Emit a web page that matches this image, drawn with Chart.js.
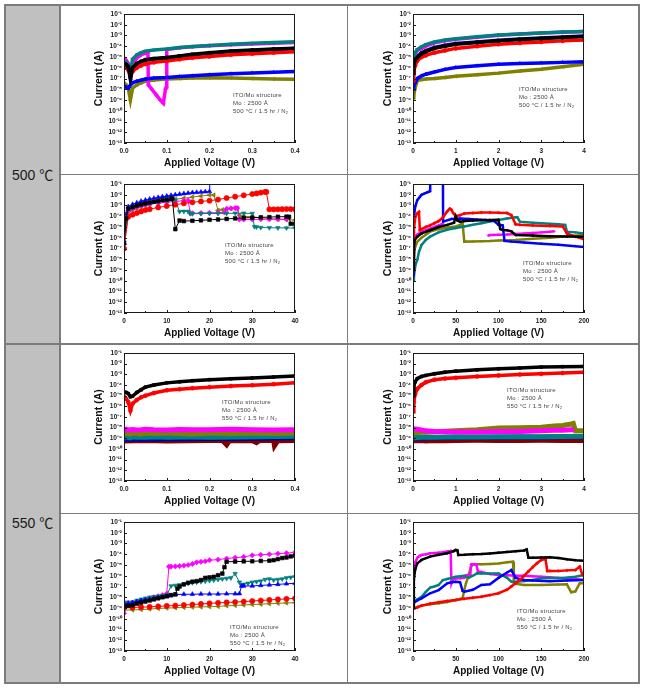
<!DOCTYPE html>
<html><head><meta charset="utf-8">
<script src="https://cdn.jsdelivr.net/npm/chart.js@4.4.0/dist/chart.umd.min.js"></script>
<style>
html,body{margin:0;padding:0;background:#fff}
body{width:647px;height:689px;overflow:hidden;position:relative;font-family:"Liberation Sans",Arial,sans-serif}
canvas{position:absolute;z-index:1}
.ln{position:absolute;background:#7c7c7c;z-index:3}
.gray{position:absolute;background:#c0c0c0;z-index:0}
.temp{position:absolute;font-size:14px;line-height:18px;color:#1a1a1a;font-family:"Liberation Sans","Noto Sans CJK KR",sans-serif;z-index:2;white-space:nowrap}
.note{position:absolute;font-size:6px;line-height:8px;color:#444;white-space:nowrap;letter-spacing:0.25px;z-index:2}
.note .s{font-size:4px;vertical-align:-1px}
</style></head><body>
<script>
// ---------- tick labels ----------
const yTickExps   = [-13,-12,-11,-10,-9,-8,-7,-6,-5,-4,-3,-2,-1];
const yTickLabels = ['10⁻¹³','10⁻¹²','10⁻¹¹','10⁻¹⁰','10⁻⁹','10⁻⁸','10⁻⁷','10⁻⁶','10⁻⁵','10⁻⁴','10⁻³','10⁻²','10⁻¹'];
const xTicksA = [0,0.1,0.2,0.3,0.4],   xLabelsA = ['0.0','0.1','0.2','0.3','0.4'];
const xTicksB = [0,1,2,3,4],           xLabelsB = ['0','1','2','3','4'];
const xTicksC = [0,10,20,30,40],       xLabelsC = ['0','10','20','30','40'];
const xTicksD = [0,50,100,150,200],    xLabelsD = ['0','50','100','150','200'];
const rowLabels = ['500 ℃','550 ℃'];
const xTitle = 'Applied Voltage (V)', yTitle = 'Current (A)';

// ---------- data: voltage (V) and log10 of current (A) ----------
// chart 1 : 500 C, 0-0.4 V
const c1x      = [0,0.005,0.01,0.015,0.02,0.03,0.04,0.05,0.07,0.1,0.13,0.16,0.2,0.25,0.3,0.35,0.4];
const c1Black  = [-5.6,-5.7,-5.9,-6.9,-6.0,-5.6,-5.4,-5.25,-5.15,-5.05,-4.9,-4.75,-4.6,-4.45,-4.35,-4.25,-4.18];
const c1Red    = [-6.0,-6.0,-6.2,-6.5,-6.35,-6.0,-5.8,-5.65,-5.5,-5.38,-5.22,-5.08,-4.95,-4.8,-4.7,-4.6,-4.5];
const c1Blue   = [-7.7,-7.8,-7.9,-7.6,-7.4,-7.25,-7.15,-7.05,-6.95,-6.9,-6.82,-6.75,-6.65,-6.55,-6.48,-6.42,-6.36];
const c1Teal   = [-5.4,-5.5,-5.8,-6.4,-5.2,-4.8,-4.6,-4.45,-4.35,-4.25,-4.12,-4.02,-3.92,-3.82,-3.72,-3.64,-3.57];
const c1Olive  = [-7.4,-7.6,-7.9,-9.0,-7.9,-7.6,-7.4,-7.25,-7.15,-7.05,-7.0,-6.95,-6.92,-6.95,-7.0,-7.05,-7.08];
const c1Navy   = [-5.7,-5.8,-6.0,-7.1,-6.1,-5.65,-5.45,-5.3,-5.2,-5.08,-4.92,-4.78,-4.65,-4.5,-4.4,-4.3,-4.22];
const c1MagX   = [0,0.005,0.01,0.015,0.02,0.03,0.04,0.05,0.056,0.057,0.065,0.075,0.085,0.092,0.097,0.099,0.1,0.13,0.16,0.2,0.25,0.3,0.35,0.4];
const c1Mag    = [-5.1,-5.3,-5.6,-5.9,-5.7,-5.1,-4.8,-4.65,-4.6,-7.6,-8.0,-8.5,-9.0,-9.3,-8.0,-7.8,-4.3,-4.15,-4.05,-3.95,-3.85,-3.78,-3.72,-3.66];

// chart 2 : 500 C, 0-4 V
const c2x      = [0,0.02,0.05,0.1,0.2,0.3,0.5,0.75,1,1.5,2,2.5,3,3.5,4];
const c2Black  = [-6.5,-5.6,-5.3,-5.05,-4.7,-4.5,-4.2,-4.0,-3.82,-3.65,-3.5,-3.38,-3.28,-3.18,-3.1];
const c2Red    = [-7.2,-6.3,-5.8,-5.35,-5.0,-4.85,-4.6,-4.4,-4.2,-4.0,-3.82,-3.7,-3.6,-3.5,-3.42];
const c2Blue   = [-8.0,-7.6,-7.4,-7.0,-6.75,-6.6,-6.4,-6.15,-5.98,-5.82,-5.67,-5.6,-5.55,-5.5,-5.45];
const c2Teal   = [-6.0,-5.0,-4.6,-4.3,-4.05,-3.85,-3.6,-3.42,-3.3,-3.12,-2.95,-2.85,-2.76,-2.68,-2.62];
const c2Mag    = [-6.2,-5.2,-4.7,-4.4,-4.2,-4.0,-3.68,-3.48,-3.36,-3.16,-2.98,-2.87,-2.77,-2.69,-2.62];
const c2Olive  = [-8.8,-8.5,-7.85,-7.2,-7.1,-7.05,-7.0,-6.9,-6.8,-6.65,-6.5,-6.3,-6.14,-5.9,-5.67];
const c2Navy   = [-6.5,-5.5,-5.2,-4.95,-4.6,-4.4,-4.1,-3.9,-3.75,-3.6,-3.45,-3.33,-3.23,-3.15,-3.05];

// chart 3 : 500 C, 0-40 V
const c3BlueX  = [0,0.5,1,2,3,4,5,6,7,8,9,10,11,12,13,14,15,16,17,18,19,20,20.05];
const c3Blue   = [-6.5,-3.8,-3.1,-2.9,-2.75,-2.6,-2.5,-2.4,-2.33,-2.25,-2.18,-2.12,-2.06,-2.0,-1.95,-1.9,-1.85,-1.8,-1.78,-1.75,-1.72,-1.7,0];
const c3BlackX = [0,0.5,1,2,3,4,5,6,7,8,9,10,11,11.3,12,13,14,16,18,20,22,24,26,28,30,32,34,36,38,38.6,39,40];
const c3Black  = [-6.5,-4.2,-3.3,-3.15,-3.0,-2.9,-2.8,-2.72,-2.65,-2.58,-2.5,-2.45,-2.4,-2.35,-5.2,-4.4,-4.45,-4.42,-4.38,-4.33,-4.3,-4.25,-4.2,-4.15,-4.13,-4.1,-4.08,-4.05,-4.04,-4.05,-4.7,-4.7];
const c3RedX   = [0,1,2,3,4,5,6,8,10,12,14,16,18,20,22,24,26,28,30,31,32,33,33.3,34,35,36,37,38,39,40];
const c3Red    = [-7,-4.04,-3.85,-3.7,-3.55,-3.42,-3.34,-3.18,-3.05,-2.92,-2.8,-2.7,-2.62,-2.55,-2.45,-2.3,-2.18,-2.05,-1.93,-1.88,-1.8,-1.74,-1.74,-3.36,-3.36,-3.35,-3.34,-3.33,-3.33,-3.34];
const c3OliveX = [0,1,2,3,4,5,6,8,10,12,14,16,18,20,21,22,23,24,25,26,26.5,27,28,30,32,34,36,38,40];
const c3Olive  = [-6.8,-3.67,-3.45,-3.3,-3.15,-2.98,-2.88,-2.72,-2.55,-2.42,-2.32,-2.22,-2.12,-2.03,-2.03,-3.45,-3.4,-3.35,-3.3,-3.25,-3.25,-3.9,-4.0,-4.05,-4.15,-4.22,-4.28,-4.32,-4.35];
const c3MagX   = [0,1,2,3,4,5,6,8,10,12,14,15,15.5,16,18,20,22,23.5,24,25,26,26.5,27,28,30,32,34,36,38];
const c3Mag    = [-6.6,-3.5,-3.3,-3.15,-3.05,-2.95,-2.88,-2.78,-2.7,-2.62,-2.55,-2.52,-3.73,-3.72,-3.7,-3.68,-3.66,-3.64,-3.3,-3.26,-3.24,-3.24,-4.3,-4.3,-4.3,-4.28,-4.28,-4.28,-4.27];
const c3TealX  = [0,1,2,3,4,5,6,8,10,12,13,14,15,15.5,16,18,20,22,24,26,28,30,30.5,31,32,34,36,38,40];
const c3Teal   = [-6.4,-3.36,-3.2,-3.05,-2.95,-2.85,-2.78,-2.65,-2.58,-2.5,-3.57,-3.55,-3.55,-3.75,-3.76,-3.75,-3.74,-3.74,-3.73,-3.72,-3.72,-3.74,-4.97,-5.0,-5.05,-5.07,-5.08,-5.09,-5.1];

// chart 4 : 500 C, 0-200 V
const c4BlueX  = [0,0.5,1,2,3,5,8,10,13,16,19,20,20.1];
const c4Blue   = [-9.5,-6,-4.5,-3.4,-3.0,-2.5,-2.2,-2.0,-1.9,-1.8,-1.7,-1.65,0];
const c4Blue2X = [35,35.2,45,55,65,75,85,95,100,105,107,115,130,150,170,190,200];
const c4Blue2  = [0,-4.5,-4.25,-4.2,-4.25,-4.3,-4.35,-4.45,-4.8,-4.85,-6.3,-6.36,-6.45,-6.55,-6.65,-6.78,-6.85];
const c4RedX   = [0,1,2,3,5,7,8,10,15,20,25,30,35,40,43,45,47,50,55,60,70,80,90,100,110,115,120,125,140,160,175,180,190,200];
const c4Red    = [-9,-5.5,-4.5,-4.0,-3.73,-3.6,-5.28,-5.2,-5.0,-4.85,-4.65,-4.45,-4.1,-3.55,-3.3,-3.4,-3.7,-4.0,-3.9,-3.75,-3.7,-3.65,-3.65,-3.67,-3.7,-3.9,-4.75,-4.8,-4.85,-4.9,-4.95,-5.6,-5.9,-6.15];
const c4TealX  = [0,1,2,3,5,7,10,15,20,30,40,50,60,70,80,90,100,110,120,122,125,140,150,160,170,178,180,190,200];
const c4Teal   = [-10,-9.5,-9,-8.5,-8.07,-7.3,-6.67,-6.2,-5.9,-5.5,-5.25,-5.1,-4.95,-4.8,-4.66,-4.5,-4.35,-4.2,-4.1,-4.1,-4.5,-4.6,-4.65,-4.7,-4.75,-4.8,-5.43,-5.5,-5.6];
const c4BlackX = [0,1,2,5,10,20,30,40,48,50,52,55,60,70,80,90,100,102,105,110,115,120,140,160,180,200];
const c4Black  = [-9,-7,-6.2,-5.9,-5.6,-5.3,-5.0,-4.8,-4.6,-4.0,-4.4,-4.5,-4.45,-4.4,-4.37,-4.35,-4.33,-5.2,-5.28,-5.3,-5.4,-5.75,-5.8,-5.85,-5.88,-5.9];
const c4MagX   = [0,1,2,5,10,15,20,25,30,35];
const c4Mag    = [-9.5,-7,-5.9,-5.7,-5.45,-5.3,-5.15,-5.0,-4.85,-4.7];
const c4Mag2X  = [88,90,100,110,120,130,140,150,160,165];
const c4Mag2   = [-5.8,-5.75,-5.72,-5.7,-5.65,-5.6,-5.55,-5.5,-5.45,-5.4];
const c4OliveX = [0,1,2,5,10,20,30,40,50,55,58,60,70,80,90,100,120,140,160,180,200];
const c4Olive  = [-10,-8.07,-7,-6.36,-6.0,-5.43,-5.2,-5.05,-4.95,-4.8,-4.66,-6.36,-6.35,-6.33,-6.3,-6.25,-6.2,-6.1,-6.0,-5.85,-5.75];

// chart 5 : 550 C, 0-0.4 V
const c5x      = [0,0.005,0.01,0.015,0.02,0.03,0.04,0.05,0.07,0.1,0.13,0.16,0.2,0.25,0.3,0.35,0.4];
const c5Black  = [-4.66,-4.7,-4.8,-5.1,-5.05,-4.7,-4.45,-4.2,-4.0,-3.8,-3.7,-3.6,-3.5,-3.42,-3.34,-3.25,-3.16];
const c5Red    = [-5.1,-5.3,-5.6,-6.4,-5.75,-5.4,-5.15,-5.0,-4.75,-4.5,-4.4,-4.3,-4.2,-4.1,-4.03,-3.92,-3.8];
const c5Mag    = [-8.2,-8.15,-8.25,-8.2,-8.18,-8.22,-8.2,-8.15,-8.2,-8.22,-8.18,-8.2,-8.2,-8.15,-8.2,-8.22,-8.2];
const c5Olive  = [-8.6,-8.5,-8.55,-8.6,-8.5,-8.55,-8.6,-8.5,-8.55,-8.5,-8.55,-8.6,-8.5,-8.55,-8.5,-8.55,-8.5];
const c5Teal   = [-8.9,-8.85,-8.9,-8.95,-8.85,-8.9,-8.88,-8.9,-8.85,-8.9,-8.88,-8.85,-8.9,-8.88,-8.85,-8.82,-8.8];
const c5Blue   = [-8.95,-9.0,-8.95,-9.0,-8.95,-8.98,-8.95,-9.0,-8.95,-8.95,-8.92,-8.95,-8.9,-8.92,-8.9,-8.88,-8.85];
const c5Navy   = [-9.05,-9.1,-9.05,-9.1,-9.08,-9.05,-9.1,-9.05,-9.08,-9.05,-9.02,-9.05,-9.0,-9.02,-9.0,-8.98,-8.95];
const c5WineX  = [0,0.05,0.1,0.15,0.2,0.23,0.235,0.24,0.245,0.25,0.3,0.31,0.315,0.32,0.35,0.352,0.36,0.4];
const c5Wine   = [-9.25,-9.2,-9.25,-9.22,-9.2,-9.2,-9.4,-9.6,-9.3,-9.2,-9.22,-9.4,-9.25,-9.2,-9.2,-9.7,-9.22,-9.2];

// chart 6 : 550 C, 0-4 V
const c6x      = [0,0.02,0.05,0.1,0.2,0.3,0.5,0.75,1,1.5,2,2.5,3,3.5,4];
const c6Black  = [-5.0,-4.05,-3.7,-3.4,-3.2,-3.1,-2.95,-2.8,-2.7,-2.58,-2.48,-2.4,-2.32,-2.28,-2.26];
const c6Red    = [-6.5,-5.6,-4.84,-4.36,-4.0,-3.74,-3.5,-3.4,-3.33,-3.2,-3.1,-3.02,-2.95,-2.88,-2.8];
const c6Teal   = [-8.95,-8.92,-8.9,-8.92,-8.9,-8.88,-8.9,-8.88,-8.86,-8.88,-8.85,-8.85,-8.85,-8.83,-8.8];
const c6Blue   = [-9.0,-8.98,-9.0,-8.95,-8.98,-8.95,-8.95,-8.93,-8.92,-8.9,-8.9,-8.88,-8.9,-8.85,-8.85];
const c6Wine   = [-9.25,-9.25,-9.2,-9.22,-9.2,-9.25,-9.2,-9.22,-9.2,-9.18,-9.2,-9.2,-9.18,-9.2,-9.2];
const c6MagX   = [0,0.1,0.3,0.5,1,1.5,2,2.5,3,3.3,3.5,3.7,3.75];
const c6Mag    = [-8.1,-8.15,-8.3,-8.35,-8.4,-8.4,-8.35,-8.35,-8.3,-8.25,-8.25,-8.2,-8.2];
const c6OliveX = [0,0.1,0.3,0.5,1,1.5,2,2.5,3,3.3,3.5,3.7,3.75,3.8,4];
const c6Olive  = [-8.5,-8.45,-8.4,-8.38,-8.3,-8.2,-8.04,-8.0,-7.95,-7.85,-7.8,-7.65,-7.6,-8.3,-8.3];

// chart 7 : 550 C, 0-40 V
const c7MagX   = [0,0.5,1,2,3,4,5,6,7,8,9,10,10.5,11,12,13,14,15,16,17,18,19,20,22,24,26,28,30,32,34,36,38,40];
const c7Mag    = [-9.5,-8.57,-8.5,-8.5,-8.4,-8.3,-8.2,-8.1,-8.0,-7.9,-7.8,-7.65,-5.15,-5.15,-5.13,-5.1,-5.05,-5.0,-4.9,-4.75,-4.7,-4.65,-4.55,-4.5,-4.4,-4.32,-4.25,-4.1,-4.05,-4.0,-3.95,-3.9,-3.82];
const c7BlackX = [0,1,2,3,4,5,6,7,8,9,10,11,12,12.5,13,14,15,16,17,18,19,20,21,22,23,23.5,24,26,28,30,32,34,35,36,37,38,39,40];
const c7Black  = [-8.9,-8.8,-8.75,-8.6,-8.5,-8.4,-8.3,-8.2,-8.1,-8.0,-7.9,-7.8,-7.73,-7.2,-7.0,-6.8,-6.65,-6.55,-6.5,-6.4,-6.2,-6.15,-6.1,-5.95,-5.8,-5.2,-4.7,-4.68,-4.66,-4.65,-4.62,-4.6,-4.55,-4.45,-4.35,-4.3,-4.2,-4.13];
const c7TealX  = [0,1,2,3,4,5,6,7,8,9,10,11,12,13,14,15,16,17,18,19,20,21,22,23,24,25,26,27,27.5,28,29,30,31,32,33,34,35,36,37,38,39,40];
const c7Teal   = [-8.47,-8.5,-8.45,-8.3,-8.2,-8.1,-8.0,-7.95,-7.9,-7.85,-7.8,-6.95,-6.9,-6.85,-6.78,-6.7,-6.65,-6.6,-6.55,-6.5,-6.45,-6.4,-6.35,-6.3,-6.25,-6.2,-5.8,-6.6,-6.9,-6.8,-6.7,-6.6,-6.55,-6.5,-6.35,-6.3,-6.4,-6.35,-6.3,-6.2,-6.15,-6.1];
const c7BlueX  = [0,1,2,3,4,5,6,7,8,9,10,11,12,14,16,18,20,22,24,26,27,27.5,28,30,32,34,36,38,40];
const c7Blue   = [-8.57,-8.6,-8.5,-8.4,-8.3,-8.25,-8.2,-8.1,-8.05,-8.0,-7.95,-7.85,-7.75,-7.72,-7.72,-7.7,-7.7,-7.7,-7.68,-7.68,-7.66,-6.95,-6.95,-6.95,-6.9,-6.85,-6.8,-6.75,-6.7];
const c7x2     = [0,2,4,6,8,10,12,14,16,18,20,22,24,26,28,30,32,34,36,38,40];
const c7Red    = [-9.0,-8.95,-8.92,-8.9,-8.85,-8.8,-8.78,-8.72,-8.68,-8.62,-8.57,-8.52,-8.48,-8.45,-8.4,-8.35,-8.3,-8.25,-8.2,-8.15,-8.1];
const c7Olive  = [-9.2,-9.18,-9.15,-9.1,-9.05,-9.0,-8.98,-8.95,-8.92,-8.9,-8.88,-8.85,-8.8,-8.76,-8.72,-8.68,-8.64,-8.6,-8.56,-8.53,-8.5];

// chart 8 : 550 C, 0-200 V
const c8MagX   = [0,0.5,1,2,3,5,8,10,15,20,25,30,35,40,44,45,47,50,55,60,62,67,68,72,74,76,80,90,100,110,120,130,140,150,160,170,180,190,200];
const c8Mag    = [-9,-7,-5.47,-5.0,-4.7,-4.32,-4.15,-4.07,-4.0,-3.9,-3.88,-3.85,-3.82,-3.75,-3.7,-6.7,-6.3,-6.25,-6.24,-6.2,-5.95,-5.9,-4.95,-4.94,-4.94,-5.6,-5.65,-5.85,-5.93,-5.95,-6.0,-6.0,-6.05,-6.09,-6.15,-6.2,-6.25,-6.3,-6.4];
const c8BlackX = [0,1,2,3,5,10,20,30,40,48,50,52,53,60,70,80,90,100,110,120,130,133,135,140,150,160,170,180,190,200];
const c8Black  = [-9,-6.4,-5.7,-5.3,-4.85,-4.53,-4.22,-4.05,-3.91,-3.7,-3.6,-3.65,-4.07,-4.05,-4.0,-3.98,-3.92,-3.85,-3.78,-3.72,-3.65,-3.55,-4.32,-4.32,-4.3,-4.28,-4.35,-4.47,-4.55,-4.6];
const c8OliveX = [0,5,10,20,30,40,50,55,58,60,62,65,68,70,80,90,100,110,117,118,120,130,150,170,180,185,190,195,200];
const c8Olive  = [-9.1,-8.9,-8.78,-8.65,-8.57,-8.45,-8.26,-8.15,-8.1,-7.33,-6.7,-5.93,-5.15,-4.94,-4.94,-4.9,-4.85,-4.75,-4.69,-6.7,-6.75,-6.86,-6.85,-6.82,-6.8,-7.54,-7.45,-6.7,-6.7];
const c8RedX   = [0,5,10,20,30,40,50,60,70,80,90,100,110,115,120,125,130,135,140,145,150,155,157,160,170,180,190,195,198,200];
const c8Red    = [-9.1,-8.95,-8.78,-8.6,-8.47,-8.35,-8.26,-8.15,-8.05,-7.95,-7.8,-7.63,-7.3,-7.0,-6.7,-6.4,-6.0,-5.6,-5.2,-4.84,-4.53,-4.45,-5.56,-5.55,-5.55,-5.5,-5.46,-5.15,-5.9,-6.0];
const c8TealX  = [0,5,10,15,20,25,30,35,40,50,60,65,70,75,80,90,100,110,115,120,130,140,150,160,175,190,200];
const c8Teal   = [-8.47,-8.2,-7.95,-7.5,-7.1,-7.0,-6.86,-6.4,-6.3,-6.09,-6.0,-6.2,-6.0,-5.78,-5.8,-5.8,-5.78,-6.2,-6.55,-6.55,-6.5,-6.4,-6.24,-6.2,-6.2,-6.1,-5.93];
const c8BlueX  = [0,5,10,20,30,40,45,50,55,58,60,70,80,90,100,110,115,120,130,140,160,180,200];
const c8Blue   = [-8.57,-8.3,-8.1,-7.63,-7.33,-6.7,-6.6,-6.55,-6.6,-7.4,-7.48,-7.3,-6.86,-6.8,-6.2,-5.7,-5.47,-6.2,-6.4,-6.45,-6.5,-6.45,-6.4];

// ---------- styling ----------
const FONT = "'Liberation Sans', Arial, sans-serif";
const STY = {
  black:  {c:'#000000', ps:'rect',     rot:0},
  red:    {c:'#ff0000', ps:'circle',   rot:0},
  blue:   {c:'#0000ff', ps:'triangle', rot:0},
  teal:   {c:'#008080', ps:'triangle', rot:180},
  magenta:{c:'#ff00ff', ps:'rectRot',  rot:0},
  olive:  {c:'#808000', ps:'triangle', rot:-90},
  navy:   {c:'#000080', ps:'triangle', rot:90},
  wine:   {c:'#800000', ps:'circle',   rot:0}
};
const MODE = {dense:{w:3.5,r:2}, marker:{w:1,r:2.6}, line:{w:2.5,r:1.2}, band:{w:5,r:1.5}};

function ds(color, xs, logs, mode){
  const st = STY[color], m = MODE[mode];
  return {
    data: xs.map((x,i)=>({x:x, y:Math.pow(10, logs[i])})),
    borderColor: st.c, backgroundColor: st.c,
    pointStyle: st.ps, pointRotation: st.rot,
    pointRadius: m.r, pointBorderWidth: 0.6, borderWidth: m.w,
    tension: 0, clip: 0
  };
}

const COLS = [{left:60, width:288, plotL:124, plotR:295, titleX:99},
              {left:348, width:290, plotL:413, plotR:584, titleX:388}];
const ROWS = [{top:5, h:169, plotT:14, plotB:143},
              {top:174, h:170, plotT:184, plotB:313},
              {top:344, h:169, plotT:353, plotB:481},
              {top:513, h:169, plotT:522, plotB:651}];

const framePlugin = {
  id:'frame',
  afterDatasetsDraw(chart){
    const {ctx, chartArea:a, scales:{x, y}} = chart;
    ctx.save();
    ctx.strokeStyle = '#1a1a1a'; ctx.lineWidth = 1;
    ctx.strokeRect(a.left+0.5, a.top+0.5, a.right-a.left-1, a.bottom-a.top-1);
    ctx.beginPath();
    y.ticks.forEach(t=>{ const py = Math.round(y.getPixelForValue(t.value))+0.5; ctx.moveTo(a.left, py); ctx.lineTo(a.left+3, py); });
    x.ticks.forEach((t,i)=>{
      const px = Math.round(x.getPixelForValue(t.value))+0.5; ctx.moveTo(px, a.bottom); ctx.lineTo(px, a.bottom-3);
      if (i < x.ticks.length-1){ const mx = Math.round(x.getPixelForValue((t.value + x.ticks[i+1].value)/2))+0.5; ctx.moveTo(mx, a.bottom); ctx.lineTo(mx, a.bottom-2); }
    });
    ctx.stroke(); ctx.restore();
  }
};

function makeChart(col, row, xTicks, xLabels, datasets){
  const C = COLS[col], R = ROWS[row];
  const cv = document.createElement('canvas');
  cv.width = C.width; cv.height = R.h;
  cv.style.left = C.left+'px'; cv.style.top = R.top+'px';
  document.body.appendChild(cv);
  const titlePad = 2, lineH = 12;
  const padL = (C.titleX - C.left) - lineH/2 - titlePad;
  const yW = (C.plotL - C.left) - padL;
  const xH = 26;
  new Chart(cv, {
    type:'line',
    data:{datasets:datasets},
    options:{
      responsive:false, animation:false, devicePixelRatio:1,
      events:[],
      layout:{padding:{left:padL, right:(C.left+C.width)-C.plotR, top:R.plotT-R.top, bottom:(R.top+R.h)-R.plotB-xH}},
      plugins:{legend:{display:false}, tooltip:{enabled:false}},
      scales:{
        x:{type:'linear', min:xTicks[0], max:xTicks[xTicks.length-1],
           afterBuildTicks:s=>{ s.ticks = xTicks.map(v=>({value:v})); },
           afterFit:s=>{ s.height = xH; },
           grid:{display:false, drawTicks:false}, border:{display:false},
           ticks:{autoSkip:false, maxRotation:0, padding:4, color:'#222', font:{family:FONT, size:6.5, weight:'bold'}, callback:(v,i)=>xLabels[i]},
           title:{display:true, text:xTitle, color:'#111', font:{family:FONT, size:10, weight:'bold', lineHeight:1.2}, padding:{top:0, bottom:0}}},
        y:{type:'logarithmic', min:Math.pow(10, yTickExps[0]), max:Math.pow(10, yTickExps[yTickExps.length-1]),
           afterBuildTicks:s=>{ s.ticks = yTickExps.map(e=>({value:Math.pow(10,e)})); },
           afterFit:s=>{ s.width = yW; },
           grid:{display:false, drawTicks:false}, border:{display:false},
           ticks:{autoSkip:false, padding:2, color:'#222', font:{family:FONT, size:6.5, weight:'bold'}, callback:(v,i)=>yTickLabels[i]},
           title:{display:true, text:yTitle, color:'#111', font:{family:FONT, size:10.5, weight:'bold', lineHeight:1.2}, padding:{top:titlePad, bottom:0}}}
      }
    },
    plugins:[framePlugin]
  });
}

// ---------- charts ----------
makeChart(0,0,xTicksA,xLabelsA,[
  ds('black',c1x,c1Black,'dense'), ds('red',c1x,c1Red,'dense'), ds('blue',c1x,c1Blue,'dense'),
  ds('teal',c1x,c1Teal,'dense'), ds('magenta',c1MagX,c1Mag,'dense'), ds('olive',c1x,c1Olive,'dense'),
  ds('navy',c1x,c1Navy,'dense')]);
makeChart(1,0,xTicksB,xLabelsB,[
  ds('black',c2x,c2Black,'dense'), ds('red',c2x,c2Red,'dense'), ds('blue',c2x,c2Blue,'dense'),
  ds('teal',c2x,c2Teal,'dense'), ds('magenta',c2x,c2Mag,'dense'), ds('olive',c2x,c2Olive,'dense'),
  ds('navy',c2x,c2Navy,'dense')]);
makeChart(0,1,xTicksC,xLabelsC,[
  ds('black',c3BlackX,c3Black,'marker'), ds('red',c3RedX,c3Red,'marker'), ds('blue',c3BlueX,c3Blue,'marker'),
  ds('teal',c3TealX,c3Teal,'marker'), ds('magenta',c3MagX,c3Mag,'marker'), ds('olive',c3OliveX,c3Olive,'marker')]);
makeChart(1,1,xTicksD,xLabelsD,[
  ds('black',c4BlackX,c4Black,'line'), ds('red',c4RedX,c4Red,'line'), ds('blue',c4BlueX,c4Blue,'line'),
  ds('blue',c4Blue2X,c4Blue2,'line'), ds('teal',c4TealX,c4Teal,'line'), ds('magenta',c4MagX,c4Mag,'line'),
  ds('magenta',c4Mag2X,c4Mag2,'line'), ds('olive',c4OliveX,c4Olive,'line')]);
makeChart(0,2,xTicksA,xLabelsA,[
  ds('black',c5x,c5Black,'dense'), ds('red',c5x,c5Red,'dense'), ds('magenta',c5x,c5Mag,'band'),
  ds('olive',c5x,c5Olive,'band'), ds('teal',c5x,c5Teal,'band'), ds('blue',c5x,c5Blue,'band'),
  ds('navy',c5x,c5Navy,'band'), ds('wine',c5WineX,c5Wine,'band')]);
makeChart(1,2,xTicksB,xLabelsB,[
  ds('black',c6x,c6Black,'dense'), ds('red',c6x,c6Red,'dense'), ds('magenta',c6MagX,c6Mag,'band'),
  ds('olive',c6OliveX,c6Olive,'band'), ds('teal',c6x,c6Teal,'band'), ds('blue',c6x,c6Blue,'band'),
  ds('wine',c6x,c6Wine,'band')]);
makeChart(0,3,xTicksC,xLabelsC,[
  ds('black',c7BlackX,c7Black,'marker'), ds('red',c7x2,c7Red,'marker'), ds('blue',c7BlueX,c7Blue,'marker'),
  ds('teal',c7TealX,c7Teal,'marker'), ds('magenta',c7MagX,c7Mag,'marker'), ds('olive',c7x2,c7Olive,'marker')]);
makeChart(1,3,xTicksD,xLabelsD,[
  ds('black',c8BlackX,c8Black,'line'), ds('red',c8RedX,c8Red,'line'), ds('blue',c8BlueX,c8Blue,'line'),
  ds('teal',c8TealX,c8Teal,'line'), ds('magenta',c8MagX,c8Mag,'line'), ds('olive',c8OliveX,c8Olive,'line')]);

// ---------- table, labels, notes ----------
function div(cls, css, html){ const d=document.createElement('div'); d.className=cls; Object.assign(d.style, css); if(html) d.innerHTML=html; document.body.appendChild(d); return d; }
div('gray',{left:'6px',top:'6px',width:'54px',height:'338px'});
div('gray',{left:'6px',top:'345px',width:'54px',height:'338px'});
// outer box
div('ln',{left:'4px',top:'4px',width:'636px',height:'2px'});
div('ln',{left:'4px',top:'682px',width:'636px',height:'2px'});
div('ln',{left:'4px',top:'4px',width:'2px',height:'680px'});
div('ln',{left:'638px',top:'4px',width:'2px',height:'680px'});
// inner
div('ln',{left:'59px',top:'4px',width:'2px',height:'680px'});
div('ln',{left:'347px',top:'4px',width:'1px',height:'680px'});
div('ln',{left:'4px',top:'343px',width:'636px',height:'2px'});
div('ln',{left:'60px',top:'174px',width:'580px',height:'1px'});
div('ln',{left:'60px',top:'513px',width:'580px',height:'1px'});

div('temp',{left:'12px',top:'166px'}, rowLabels[0]);
div('temp',{left:'12px',top:'514px'}, rowLabels[1]);

const notePos = [[233,91,'500'],[519,85,'500'],[225,241,'500'],[523,259,'500'],
                 [222,398,'550'],[507,386,'550'],[230,623,'550'],[517,607,'550']];
notePos.forEach(p=>{
  div('note',{left:p[0]+'px',top:p[1]+'px'},
      'ITO/Mo structure<br>Mo : 2500 Å<br>'+p[2]+' °C / 1.5 hr / N<span class="s">2</span>');
});
</script>
</body></html>
